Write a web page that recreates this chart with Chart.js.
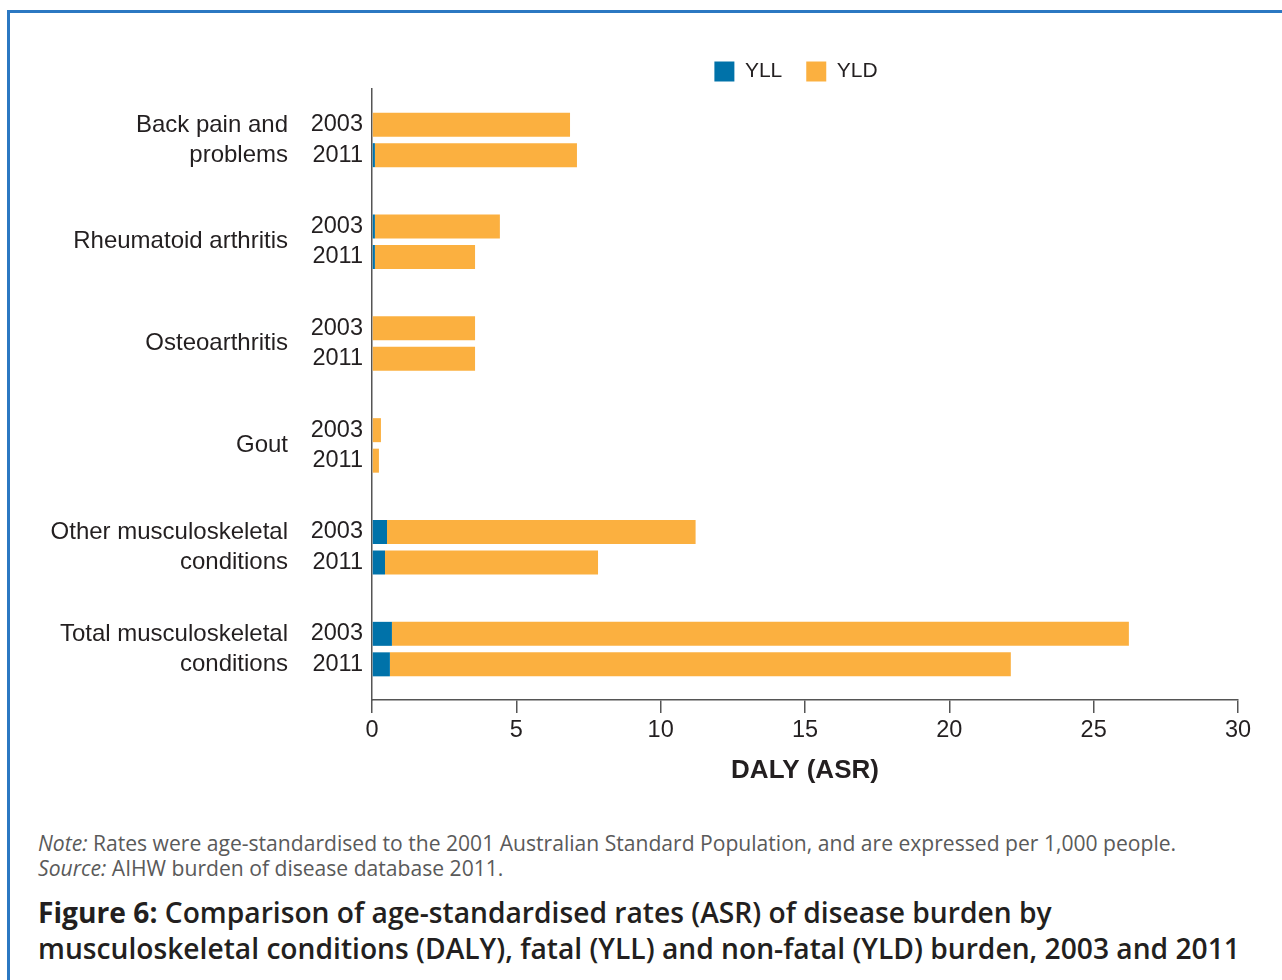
<!DOCTYPE html>
<html>
<head>
<meta charset="utf-8">
<script src="https://cdn.jsdelivr.net/npm/chart.js@4.4.1/dist/chart.umd.min.js"></script>
<style>
  html, body { margin: 0; padding: 0; background: #fff; width: 1282px; height: 980px; overflow: hidden; }
  #frame { position: absolute; left: 7px; top: 10px; width: 1300px; height: 1000px;
           border-left: 3px solid #2b78c2; border-top: 3px solid #2b78c2; box-sizing: border-box; }
  #chart { position: absolute; left: 0; top: 0; }
  .note { position: absolute; left: 38px; font-family: "Open Sans", sans-serif; font-size: 21.1px;
          color: #5a5a5a; line-height: 25px; white-space: nowrap; font-weight: 400; }
  .caption { position: absolute; left: 38px; top: 894px; font-family: "Open Sans", sans-serif;
             font-size: 28.2px; line-height: 36px; color: #231f20; font-weight: 600; white-space: nowrap; }
  .caption b { font-weight: 700; }
</style>
</head>
<body>
<div id="frame"></div>
<canvas id="chart" width="1282" height="800"></canvas>
<div class="note" style="top:830px;"><i>Note:</i> Rates were age-standardised to the 2001 Australian Standard Population, and are expressed per 1,000 people.</div>
<div class="note" style="top:855px;"><i>Source:</i> AIHW burden of disease database 2011.</div>
<div class="caption"><b>Figure 6:</b> Comparison of age-standardised rates (ASR) of disease burden by<br>musculoskeletal conditions (DALY), fatal (YLL) and non-fatal (YLD) burden, 2003 and 2011</div>
<script>
// ---- data ----
const categories = [
  ['Back pain and', 'problems'],
  'Rheumatoid arthritis',
  'Osteoarthritis',
  'Gout',
  ['Other musculoskeletal', 'conditions'],
  ['Total musculoskeletal', 'conditions']
];
const years = ['2003', '2011'];
const yll2003 = [0.0, 0.1, 0.0, 0.0, 0.52, 0.69];
const yld2003 = [6.86, 4.33, 3.57, 0.31, 10.69, 25.53];
const yll2011 = [0.1, 0.1, 0.0, 0.0, 0.45, 0.62];
const yld2011 = [7.0, 3.47, 3.57, 0.24, 7.38, 21.51];
const xTicks = [0, 5, 10, 15, 20, 25, 30];

const BLUE = '#0072a9';
const ORANGE = '#fbb040';
const TEXT = '#231f20';
const AXIS = '#555555';
const FONT = "'Liberation Sans', Arial, sans-serif";
const LABEL_SIZE = 23.5;

Chart.defaults.font.family = FONT;
Chart.defaults.color = TEXT;

const yearLabels = {
  id: 'yearLabels',
  afterDatasetsDraw(chart) {
    const ctx = chart.ctx;
    ctx.save();
    ctx.font = LABEL_SIZE + 'px ' + FONT;
    ctx.fillStyle = TEXT;
    ctx.textAlign = 'right';
    ctx.textBaseline = 'middle';
    chart.data.datasets.forEach((ds, di) => {
      if (!ds.yearLabel) return;
      const meta = chart.getDatasetMeta(di);
      meta.data.forEach(el => {
        ctx.fillText(ds.yearLabel, chart.chartArea.left - 9, el.y);
      });
    });
    ctx.restore();
  }
};

// shift the legend slightly left of the plot centre, as in the original figure
const legendNudge = {
  id: 'legendNudge',
  afterLayout(chart) {
    if (chart.legend) { chart.legend.left -= 9; chart.legend.right -= 9; }
  }
};

new Chart(document.getElementById('chart'), {
  type: 'bar',
  data: {
    labels: categories,
    datasets: [
      { label: 'YLL', data: yll2003, backgroundColor: BLUE, stack: 's2003' },
      { label: 'YLD', data: yld2003, backgroundColor: ORANGE, stack: 's2003', yearLabel: years[0] },
      { label: 'YLL', data: yll2011, backgroundColor: BLUE, stack: 's2011' },
      { label: 'YLD', data: yld2011, backgroundColor: ORANGE, stack: 's2011', yearLabel: years[1] }
    ]
  },
  options: {
    indexAxis: 'y',
    responsive: false,
    animation: false,
    events: [],
    categoryPercentage: 0.599,
    barPercentage: 0.787,
    layout: { padding: { top: 37, left: 40, right: 44, bottom: 10 } },
    plugins: {
      tooltip: { enabled: false },
      legend: {
        display: true,
        position: 'top',
        fullSize: false,
        maxHeight: 52,
        labels: {
          boxWidth: 20, boxHeight: 20, padding: 24,
          font: { size: 21, family: FONT }, color: TEXT,
          filter: (item) => item.datasetIndex < 2
        }
      }
    },
    scales: {
      x: {
        type: 'linear',
        stacked: true,
        min: 0, max: 30,
        afterBuildTicks: (s) => { s.ticks = xTicks.map(v => ({ value: v })); },
        afterFit: (s) => { s.height = 90; },
        grid: { drawOnChartArea: false, drawTicks: true, tickLength: 13, color: AXIS, lineWidth: 1.5 },
        border: { display: true, color: AXIS, width: 1.5 },
        ticks: { font: { size: LABEL_SIZE }, color: TEXT, padding: 3, maxRotation: 0 },
        title: { display: true, text: 'DALY (ASR)', font: { size: 26, weight: 'bold' }, color: TEXT,
                 padding: { top: 0, bottom: 4 } }
      },
      y: {
        type: 'category',
        stacked: true,
        afterFit: (s) => { s.width = 332; },
        grid: { display: false, drawTicks: true, tickLength: 84 },
        border: { display: true, color: AXIS, width: 1.5 },
        ticks: { font: { size: 24, lineHeight: 30 / 24 }, color: TEXT, padding: 0, autoSkip: false }
      }
    }
  },
  plugins: [yearLabels, legendNudge]
});
</script>
</body>
</html>
